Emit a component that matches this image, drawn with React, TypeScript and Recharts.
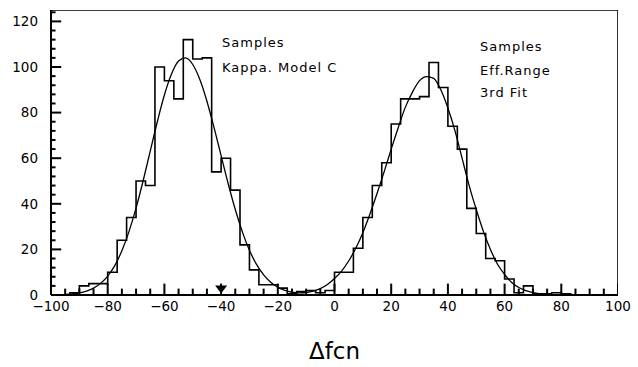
import React from 'react';
import { ComposedChart, Line, XAxis, YAxis, ReferenceDot } from 'recharts';

// Histogram: 60 bins over [-100, 100]
const HIST_START = -100;
const BIN_WIDTH = 10 / 3;
const histCounts = [
  0, 0, 1, 4, 5, 5, 10, 24, 34, 50,
  48, 100, 94, 86, 112, 103.5, 104, 54, 60, 46,
  22, 11, 4.5, 4.5, 3, 0.5, 1.5, 2, 1, 2,
  10, 10, 20.5, 34, 48, 58, 75, 86, 86, 87,
  102, 91, 74, 64, 38, 27, 16, 15, 7, 1,
  4, 0.5, 0.5, 1, 0.5, 0, 0, 0, 0, 0,
];

// Fitted curve
const curveX = [
  -95, -92.5, -90, -87.5, -85, -82.5, -80, -77.5, -75, -72.5,
  -70, -67.5, -65, -62.5, -60, -57.5, -55, -52.5, -50, -47.5,
  -45, -42.5, -40, -37.5, -35, -32.5, -30, -27.5, -25, -22.5,
  -20, -17.5, -15, -12.5, -10, -7.5, -5, -2.5, 0, 2.5,
  5, 7.5, 10, 12.5, 15, 17.5, 20, 22.5, 25, 27.5,
  30, 32.5, 35, 37.5, 40, 42.5, 45, 47.5, 50, 52.5,
  55, 57.5, 60, 62.5, 65, 67.5, 70, 72.5, 75, 77.5, 80,
];
const curveY = [
  0.25, 0.5, 0.9, 1.7, 3.0, 5.1, 8.3, 12.9, 19.4, 27.8,
  38.1, 50.1, 63.1, 76, 87.7, 96.9, 102.6, 104, 101.1, 94.5,
  85, 73.5, 61.1, 48.8, 37.5, 27.7, 19.6, 13.4, 8.8, 5.6,
  3.4, 2.0, 1.2, 0.9, 1.1, 1.7, 2.8, 4.6, 7.2, 10.5,
  14.9, 20.5, 27.3, 35.5, 44.5, 54, 64, 73.5, 82.4, 89,
  94, 95.8, 95, 90, 82, 72, 60, 48, 37.5, 28,
  20, 13.5, 9, 5.5, 3.3, 1.9, 1.0, 0.5, 0.25, 0.1, 0.05,
];

const X_LABELS = [-100, -80, -60, -40, -20, 0, 20, 40, 60, 80, 100];
const X_TICKS = [-100, -95, -90, -85, -80, -75, -70, -65, -60, -55, -50, -45, -40, -35, -30, -25, -20, -15, -10, -5, 0, 5, 10, 15, 20, 25, 30, 35, 40, 45, 50, 55, 60, 65, 70, 75, 80, 85, 90, 95, 100];
const Y_LABELS = [0, 20, 40, 60, 80, 100, 120];
const Y_TICKS = [0, 4, 8, 12, 16, 20, 24, 28, 32, 36, 40, 44, 48, 52, 56, 60, 64, 68, 72, 76, 80, 84, 88, 92, 96, 100, 104, 108, 112, 116, 120, 124];
const X_DOMAIN: [number, number] = [-100, 100];
const Y_DOMAIN: [number, number] = [0, 125];
const MARKER_X = -40;
const MARKER_Y = 2.4;

// inward tick lengths, in data units
const X_MAJOR_LEN = 5;
const X_MINOR_LEN = 2.8;
const Y_MAJOR_LEN = 3.6;
const Y_MINOR_LEN = 1.6;

const leftNote = ['Samples', 'Kappa. Model C'];
const rightNote = ['Samples', 'Eff.Range', '3rd Fit'];
const xTitle = 'Δfcn';

const histData = [
  ...histCounts.map((c, i) => ({ x: HIST_START + i * BIN_WIDTH, y: c })),
  { x: X_DOMAIN[1], y: 0 },
];
const curveData = curveX.map((x, i) => ({ x, y: curveY[i] }));

const xTickSegs = X_TICKS.map((v) => {
  const len = X_LABELS.includes(v) ? X_MAJOR_LEN : X_MINOR_LEN;
  return [
    { x: v, y: Y_DOMAIN[0] },
    { x: v, y: Y_DOMAIN[0] + len },
  ];
});
const yTickSegs = Y_TICKS.map((v) => {
  const len = Y_LABELS.includes(v) ? Y_MAJOR_LEN : Y_MINOR_LEN;
  return [
    { x: X_DOMAIN[0], y: v },
    { x: X_DOMAIN[0] + len, y: v },
  ];
});
const frameData = [
  { x: X_DOMAIN[0], y: Y_DOMAIN[1] },
  { x: X_DOMAIN[1], y: Y_DOMAIN[1] },
  { x: X_DOMAIN[1], y: Y_DOMAIN[0] },
];

const FONT = '"DejaVu Sans", Arial, sans-serif';
const fmt = (v: number) => (v < 0 ? '\u2212' + Math.abs(v) : String(v));

const Triangle = (props: any) => {
  const { cx, cy } = props;
  return <polygon points={`${cx - 6},${cy - 4} ${cx + 6},${cy - 4} ${cx},${cy + 4}`} fill="#000" />;
};

export default function App() {
  return (
    <div style={{ position: 'absolute', left: 0, top: 0, width: 638, height: 367, background: '#fff' }}>
      <ComposedChart width={638} height={367} margin={{ top: 10, right: 20, left: 0, bottom: 0 }}>
        <XAxis
          type="number"
          dataKey="x"
          domain={X_DOMAIN}
          ticks={X_LABELS}
          interval={0}
          tickFormatter={fmt}
          tick={{ fill: '#000', fontSize: 13.5, fontFamily: FONT }}
          tickLine={false}
          tickSize={0}
          tickMargin={6}
          height={72}
          axisLine={{ stroke: '#000', strokeWidth: 2 }}
          allowDataOverflow
        />
        <YAxis
          type="number"
          domain={Y_DOMAIN}
          ticks={Y_LABELS}
          interval={0}
          tickFormatter={fmt}
          tick={{ fill: '#000', fontSize: 13.5, fontFamily: FONT }}
          tickLine={false}
          tickSize={0}
          tickMargin={13}
          width={51}
          axisLine={{ stroke: '#000', strokeWidth: 2 }}
          allowDataOverflow
        />
        <Line data={frameData} dataKey="y" type="linear" stroke="#000" strokeWidth={1.6} dot={false} isAnimationActive={false} />
        {xTickSegs.map((seg, i) => (
          <Line key={'xt' + i} data={seg} dataKey="y" type="linear" stroke="#000" strokeWidth={2} dot={false} isAnimationActive={false} />
        ))}
        {yTickSegs.map((seg, i) => (
          <Line key={'yt' + i} data={seg} dataKey="y" type="linear" stroke="#000" strokeWidth={2} dot={false} isAnimationActive={false} />
        ))}
        <Line
          data={histData}
          dataKey="y"
          type="stepAfter"
          stroke="#000"
          strokeWidth={1.6}
          dot={false}
          isAnimationActive={false}
        />
        <Line
          data={curveData}
          dataKey="y"
          type="monotone"
          stroke="#000"
          strokeWidth={1.3}
          dot={false}
          isAnimationActive={false}
        />
        <ReferenceDot x={MARKER_X} y={MARKER_Y} shape={<Triangle />} ifOverflow="visible" />
      </ComposedChart>
      <svg width={638} height={367} style={{ position: 'absolute', left: 0, top: 0, pointerEvents: 'none' }}>
        <g fontFamily={FONT} fontSize={13} fill="#000" letterSpacing={1}>
          <text x={222} y={47}>{leftNote[0]}</text>
          <text x={222} y={72}>{leftNote[1]}</text>
          <text x={480} y={51}>{rightNote[0]}</text>
          <text x={480} y={74.5}>{rightNote[1]}</text>
          <text x={480} y={97}>{rightNote[2]}</text>
        </g>
        <text x={334.5} y={359} textAnchor="middle" fontFamily={FONT} fontSize={23} fill="#000">
          {xTitle}
        </text>
      </svg>
    </div>
  );
}
